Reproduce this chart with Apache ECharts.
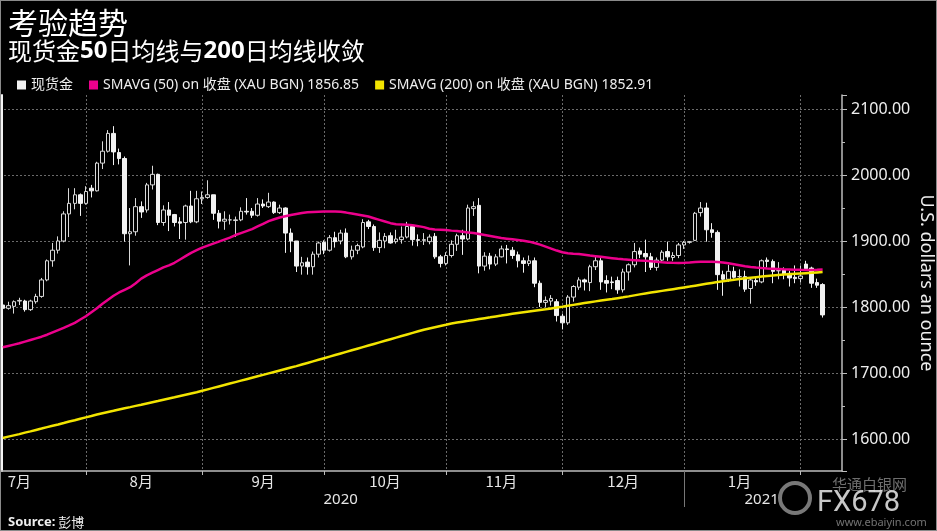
<!DOCTYPE html>
<html>
<head>
<meta charset="utf-8">
<script src="https://cdn.jsdelivr.net/npm/echarts@6/dist/echarts.min.js"></script>
<style>
html,body{margin:0;padding:0;background:#000;}
#wrap{position:relative;width:937px;height:531px;}
#chart{width:937px;height:531px;}
#frame{position:absolute;left:0;top:0;width:935px;height:529px;border:1px solid #8a8a8a;pointer-events:none;}
</style>
</head>
<body>
<div id="wrap"><div id="chart"></div><div id="frame"></div></div>
<script>
// ---- categories: trading days (weekdays, Dec 25 closed) + 3 empty slots on the right
const startDate = [2020, 6, 10];
const closedDays = ['2020-12-25'];
const categoryCount = 152;
const categories = [];
(function () {
  const d = new Date(Date.UTC(startDate[0], startDate[1], startDate[2]));
  while (categories.length < categoryCount) {
    const wd = d.getUTCDay();
    const s = d.toISOString().slice(0, 10);
    if (wd !== 0 && wd !== 6 && closedDays.indexOf(s) < 0) categories.push(s);
    d.setUTCDate(d.getUTCDate() + 1);
  }
})();

// ---- tick labels
const monthLabelIndex = [3, 25, 47, 69, 90, 112, 133];
const yearLabelIndex = [61, 137];
const yearSeparatorIndex = [123];

// ---- spot gold OHLC
const opens = [1803,1798,1801,1809,1809,1796,1808,1816,1841,1870,1886,1900,1941,1957,1970,1957,1980,1976,2018,2036,
2063,2034,2025,1911,1914,1952,1947,1985,2001,1928,1947,1940,1929,1928,1953,1929,1964,1966,1970,1942,
1930,1932,1931,1932,1945,1945,1939,1956,1952,1959,1943,1950,1912,1900,1862,1868,1861,1880,1898,1886,
1905,1900,1912,1876,1886,1891,1929,1922,1890,1900,1908,1899,1902,1906,1922,1902,1901,1899,1907,1876,
1866,1878,1895,1908,1903,1949,1954,1862,1877,1865,1876,1888,1886,1879,1870,1866,1870,1836,1807,1809,
1808,1786,1776,1815,1830,1841,1837,1861,1870,1840,1838,1840,1826,1853,1864,1885,1881,1876,1860,1871,
1884,1875,1878,1894,1898,1901,1943,1950,1917,1913,1849,1842,1854,1846,1846,1828,1840,1838,1871,1869,
1855,1856,1851,1845,1843,1865,1859,1837,1834];
const closes = [1798,1802,1808,1810,1796,1809,1816,1841,1870,1886,1900,1941,1957,1970,1957,1975,1976,2018,2036,2063,
2035,2025,1911,1914,1952,1944,1985,2001,1928,1947,1939,1928,1927,1953,1929,1964,1966,1970,1942,1930,
1933,1932,1932,1945,1944,1939,1956,1953,1959,1943,1950,1912,1900,1862,1867,1861,1880,1897,1886,1905,
1899,1912,1876,1886,1893,1928,1922,1890,1901,1907,1897,1903,1906,1922,1902,1901,1902,1906,1876,1866,
1878,1895,1908,1903,1950,1952,1862,1877,1865,1876,1888,1887,1878,1870,1866,1870,1836,1807,1810,1813,
1787,1776,1815,1831,1841,1838,1861,1870,1838,1836,1837,1826,1853,1864,1884,1880,1876,1860,1871,1883,
1876,1878,1894,1898,1899,1942,1950,1917,1913,1849,1842,1854,1845,1846,1827,1841,1838,1870,1869,1854,
1855,1850,1844,1843,1847,1858,1836,1833,1788];
const lows = [1795,1796,1790,1803,1793,1794,1805,1814,1839,1861,1881,1898,1906,1948,1938,1955,1966,1975,2009,2034,
2015,2016,1899,1863,1908,1935,1943,1978,1924,1923,1915,1922,1903,1902,1927,1927,1956,1964,1932,1919,
1917,1925,1906,1930,1940,1935,1937,1950,1950,1941,1941,1882,1883,1853,1849,1849,1849,1875,1880,1884,
1890,1895,1874,1872,1880,1889,1918,1885,1882,1889,1896,1896,1896,1904,1893,1892,1894,1895,1873,1860,
1863,1875,1885,1879,1901,1938,1851,1855,1857,1862,1875,1866,1873,1860,1852,1862,1830,1800,1800,1802,
1778,1766,1773,1808,1826,1825,1824,1856,1826,1822,1827,1820,1822,1840,1860,1874,1853,1856,1855,1868,
1870,1870,1874,1888,1896,1900,1937,1899,1905,1826,1817,1838,1843,1831,1823,1805,1832,1836,1860,1836,
1842,1842,1831,1836,1837,1855,1829,1829,1784];
const highs = [1808,1808,1810,1814,1811,1811,1820,1844,1872,1897,1907,1945,1980,1980,1972,1983,1985,2020,2051,2068,
2074,2040,2028,1950,1965,1960,1988,2014,2002,1954,1959,1941,1936,1955,1976,1976,1975,1992,1970,1947,
1945,1940,1937,1951,1965,1950,1965,1963,1973,1960,1955,1951,1919,1900,1876,1875,1884,1899,1901,1909,
1914,1917,1919,1893,1896,1933,1932,1925,1913,1912,1913,1917,1922,1929,1925,1910,1912,1910,1912,1879,
1883,1901,1911,1917,1955,1960,1965,1883,1882,1880,1893,1894,1891,1884,1875,1878,1875,1840,1816,1818,
1812,1790,1818,1833,1845,1843,1864,1876,1874,1848,1846,1846,1858,1866,1897,1890,1902,1882,1875,1886,
1899,1883,1897,1900,1900,1944,1959,1958,1927,1916,1855,1864,1861,1857,1855,1845,1845,1872,1875,1872,
1868,1860,1855,1863,1863,1870,1861,1843,1836];

// ---- 50-day and 200-day simple moving averages
const sma50 = [1739,1741,1743,1745,1747.5,1750,1752.5,1755,1758,1761.5,1765,1768.5,1772,1776,1781,1786,1792,1798,1805,1811,
1817,1822,1826,1830,1836,1843,1848,1852,1856,1860,1863,1867,1872,1877,1882,1886,1890,1893,1896,1899,
1902,1905,1909,1912,1915,1918,1922,1926,1930,1933,1935.5,1937.5,1939.5,1941,1942.5,1943.5,1944,1944.4,1944.6,1944.6,
1944.5,1944.2,1943,1941.5,1940,1938.5,1937,1934.5,1932,1929.5,1927,1925.5,1925,1924.5,1923.8,1922.5,1921,1918.5,1917.5,1917,
1916.5,1915.7,1915,1914,1913,1912,1910.5,1909,1907.5,1906,1904.5,1903.5,1902.5,1901.5,1900.5,1899,1897,1894.5,1891.5,1888.5,
1885.5,1883,1881.5,1880.8,1880.2,1879.2,1878,1877,1876,1875,1874,1873,1872.2,1871.6,1871,1870.4,1870,1869.3,1868.6,1867.8,
1867.2,1866.9,1866.8,1867,1867.4,1868,1868.5,1868.6,1868.4,1868,1867.3,1866.2,1864.8,1863.3,1861.8,1860.6,1859.7,1858.9,1858.4,1858,
1857.6,1857.2,1856.9,1856.6,1856.3,1856.1,1856.2,1856.5,1856.85];
const sma200 = [1601.5,1603.6,1605.5,1607.4,1609.6,1611.5,1613.7,1615.8,1618.0,1620.1,1622.0,1624.2,1626.5,1628.4,1630.6,1632.7,1634.8,1637.0,1639.0,1640.9,
1642.7,1644.6,1646.5,1648.3,1650.2,1652.0,1653.9,1655.8,1657.6,1659.5,1661.4,1663.2,1665.1,1667.0,1668.9,1670.8,1673.0,1675.2,1677.4,1679.6,
1681.8,1684.0,1686.2,1688.4,1690.6,1692.8,1695.0,1697.2,1699.4,1701.6,1703.8,1706.0,1708.2,1710.4,1712.8,1715.2,1717.6,1720.0,1722.4,1724.8,
1727.2,1729.6,1732.0,1734.4,1736.8,1739.2,1741.6,1744.0,1746.4,1748.8,1751.2,1753.6,1756.0,1758.4,1760.8,1763.2,1765.6,1767.5,1769.4,1771.3,
1773.1,1775.0,1776.4,1777.7,1779.0,1780.4,1781.7,1783.0,1784.3,1785.7,1787.0,1788.4,1789.7,1791.0,1792.1,1793.2,1794.3,1795.4,1796.5,1797.8,
1799.1,1800.4,1801.8,1803.2,1804.6,1806.0,1807.3,1808.5,1809.7,1810.9,1812.1,1813.4,1814.7,1816.1,1817.6,1819.1,1820.5,1821.8,1823.1,1824.4,
1825.7,1827.0,1828.3,1829.6,1830.9,1832.3,1833.7,1835.1,1836.5,1837.8,1839.0,1840.2,1841.3,1842.4,1843.4,1844.3,1845.2,1846.1,1846.9,1847.7,
1848.4,1849.1,1849.7,1850.3,1850.8,1851.3,1851.8,1852.4,1852.91];

const seriesNames = ['现货金', 'SMAVG (50) on 收盘 (XAU BGN) 1856.85', 'SMAVG (200) on 收盘 (XAU BGN) 1852.91'];
const yRange = [1551.5, 2121.2];

// month-end category indices (for grid lines / ticks)
const monthEndIndex = [];
for (let i = 0; i < categories.length - 1; i++) {
  if (categories[i].slice(5, 7) !== categories[i + 1].slice(5, 7)) monthEndIndex.push(i);
}
const candleData = opens.map((o, i) => [o, closes[i], lows[i], highs[i]]);

const FONT = '"Noto Sans", "Noto Sans CJK SC", sans-serif';
const CJK = '"Noto Sans CJK SC", "Noto Sans", sans-serif';

const chart = echarts.init(document.getElementById('chart'), null, { renderer: 'canvas' });
chart.setOption({
  backgroundColor: '#000',
  animation: false,
  title: [
    { text: '考验趋势', left: 3, top: 3,
      textStyle: { color: '#fff', fontSize: 30, fontWeight: 'normal', fontFamily: CJK } },
    { text: '现货金{b|50}日均线与{b|200}日均线收敛', left: 3, top: 34,
      textStyle: { color: '#fff', fontSize: 24, fontWeight: 'normal', fontFamily: CJK,
        rich: { b: { color: '#fff', fontSize: 24, fontWeight: 'bold', fontFamily: FONT } } } },
    { text: '{b|Source:} 彭博', left: 3, top: 511,
      textStyle: { color: '#eee', fontSize: 13, fontWeight: 'normal', fontFamily: CJK,
        rich: { b: { color: '#eee', fontSize: 13, fontWeight: 'bold', fontFamily: FONT } } } },
    { text: '华通白银网', left: 827, top: 472,
      textStyle: { color: 'rgba(200,200,200,0.55)', fontSize: 15, fontWeight: 'normal', fontFamily: CJK } },
    { text: 'FX678', left: 812, top: 484,
      textStyle: { color: 'rgba(235,235,235,0.85)', fontSize: 29, fontWeight: 'normal', fontFamily: 'Roboto' } },
    { text: 'www.ebaiyin.com', left: 831, top: 512,
      textStyle: { color: 'rgba(190,190,190,0.6)', fontSize: 11, fontWeight: 'normal', fontFamily: FONT } }
  ],
  graphic: [
    { type: 'circle', shape: { cx: 795, cy: 498, r: 15 }, silent: true,
      style: { fill: 'none', stroke: 'rgba(200,200,200,0.6)', lineWidth: 4 } }
  ],
  legend: {
    left: 12, top: 73, icon: 'rect', itemWidth: 9, itemHeight: 9, itemGap: 16,
    textStyle: { color: '#eee', fontSize: 14, fontFamily: FONT },
    data: [
      { name: seriesNames[0], itemStyle: { color: '#f2f2f2', borderWidth: 0 } },
      { name: seriesNames[1], itemStyle: { color: '#ec008c', borderWidth: 0 } },
      { name: seriesNames[2], itemStyle: { color: '#f2e400', borderWidth: 0 } }
    ],
    selectedMode: false
  },
  grid: { left: 0, right: 95, top: 95, bottom: 60, containLabel: false, outerBoundsMode: 'none' },
  xAxis: [
    {
      type: 'category', data: categories, boundaryGap: true, position: 'bottom',
      axisLine: { show: true, lineStyle: { color: '#bdbdbd', width: 1.5 } },
      axisTick: { show: true, alignWithLabel: true, length: 4,
        interval: (i) => monthEndIndex.indexOf(i) >= 0, lineStyle: { color: '#bdbdbd' } },
      axisLabel: { show: true, interval: (i) => monthLabelIndex.indexOf(i) >= 0,
        formatter: (v) => parseInt(v.slice(5, 7), 10) + '月',
        color: '#e6e6e6', fontSize: 15, fontFamily: CJK, margin: 3 },
      splitLine: { show: true, alignWithLabel: true, interval: (i) => monthEndIndex.indexOf(i) >= 0,
        lineStyle: { color: '#6a6a6a', type: [2, 2], width: 1 } }
    },
    {
      type: 'category', data: categories, boundaryGap: true, position: 'bottom', gridIndex: 0,
      axisLine: { show: false },
      axisTick: { show: true, alignWithLabel: true, length: 36,
        interval: (i) => yearSeparatorIndex.indexOf(i) >= 0, lineStyle: { color: '#777' } },
      axisLabel: { show: true, interval: (i) => yearLabelIndex.indexOf(i) >= 0,
        formatter: (v) => v.slice(0, 4), color: '#e6e6e6', fontSize: 15, fontFamily: FONT, margin: 21 },
      splitLine: { show: false }
    }
  ],
  yAxis: [
    {
      type: 'value', position: 'right', min: yRange[0], max: yRange[1], splitNumber: 5, scale: true,
      axisLine: { show: true, lineStyle: { color: '#bdbdbd', width: 1.5 } },
      axisTick: { show: true, length: 5, lineStyle: { color: '#bdbdbd' } },
      minorTick: { show: true, splitNumber: 2, length: 3, lineStyle: { color: '#bdbdbd' } },
      axisLabel: { formatter: (v) => v.toFixed(2), showMinLabel: false, showMaxLabel: false,
        color: '#eeeeee', fontSize: 16, fontFamily: FONT, margin: 9 },
      splitLine: { show: true, showMinLine: false, showMaxLine: false,
        lineStyle: { color: '#6a6a6a', type: [2, 2], width: 1 } },
      name: 'U.S. dollars an ounce', nameLocation: 'middle', nameRotate: -90, nameGap: 75,
      nameMoveOverlap: false,
      nameTextStyle: { color: '#eeeeee', fontSize: 18, fontFamily: FONT }
    },
    {
      type: 'value', position: 'left', min: 0, max: 1, offset: -2,
      axisLine: { show: true, lineStyle: { color: '#f5f5f5', width: 2 } },
      axisTick: { show: false }, axisLabel: { show: false }, splitLine: { show: false }
    }
  ],
  series: [
    {
      name: seriesNames[0], type: 'candlestick', data: candleData, barWidth: 4, z: 2,
      itemStyle: { color: '#000', color0: '#f2f2f2', borderColor: '#d9d9d9', borderColor0: '#f2f2f2',
        borderColorDoji: '#d9d9d9', borderWidth: 1 }
    },
    {
      name: seriesNames[1], type: 'line', data: sma50, showSymbol: false, symbol: 'none', z: 3,
      lineStyle: { color: '#ec008c', width: 2.5 }, itemStyle: { color: '#ec008c' }
    },
    {
      name: seriesNames[2], type: 'line', data: sma200, showSymbol: false, symbol: 'none', z: 3,
      lineStyle: { color: '#f2e400', width: 2.5 }, itemStyle: { color: '#f2e400' }
    }
  ]
});
</script>
</body>
</html>
